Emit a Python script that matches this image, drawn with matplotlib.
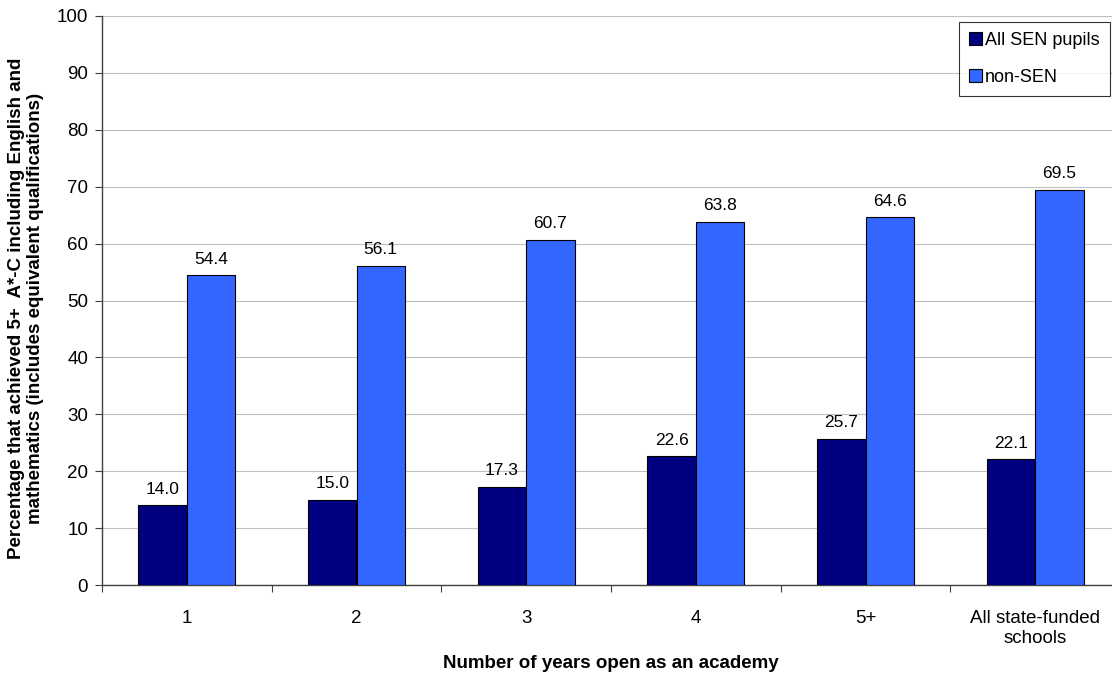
import matplotlib
matplotlib.use("Agg")
import matplotlib.pyplot as plt
import numpy as np

categories = ["1", "2", "3", "4", "5+", "All state-funded\nschools"]
sen = [14.0, 15.0, 17.3, 22.6, 25.7, 22.1]
non_sen = [54.4, 56.1, 60.7, 63.8, 64.6, 69.5]

SEN_COLOR = "#000080"
NON_SEN_COLOR = "#3366FF"

plt.rcParams["font.family"] = ["Liberation Sans", "DejaVu Sans"]

W, H = 1112, 684
fig = plt.figure(figsize=(W / 100, H / 100), dpi=100)
ax = fig.add_axes([102 / W, 1 - 585 / H, (1120 - 102) / W, (585 - 16) / H])

x = np.arange(len(categories))
w = 0.285
b1 = ax.bar(x - w / 2, sen, width=w, color=SEN_COLOR, edgecolor="black", linewidth=0.8,
            label="All SEN pupils", zorder=3)
b2 = ax.bar(x + w / 2, non_sen, width=w, color=NON_SEN_COLOR, edgecolor="black", linewidth=0.8,
            label="non-SEN", zorder=3)
for bars, vals in ((b1, sen), (b2, non_sen)):
    for r, v in zip(bars, vals):
        ax.text(r.get_x() + r.get_width() / 2, v + 1.5, f"{v:.1f}", ha="center", va="bottom",
                fontsize=12.5)

ax.set_xlim(-0.5, len(categories) - 0.5)
ax.set_ylim(0, 100)
ax.set_yticks(range(0, 101, 10))
ax.tick_params(axis="y", labelsize=13.5, length=5, color="#404040", direction="out", pad=5)
ax.set_xticks(np.arange(-0.5, len(categories), 1.0))
ax.set_xticklabels([])
ax.set_xticks(x, minor=True)
ax.set_xticklabels(categories, minor=True, fontsize=13.5)
ax.tick_params(axis="x", which="major", length=5, color="#404040", direction="out")
ax.tick_params(axis="x", which="minor", length=0, pad=18)
ax.grid(axis="y", color="#c0c0c0", linewidth=0.8, zorder=0)

for s in ("top", "right"):
    ax.spines[s].set_visible(False)
for s in ("left", "bottom"):
    ax.spines[s].set_color("#404040")
    ax.spines[s].set_linewidth(1.0)

fig.text(611 / W, 1 - 655 / H, "Number of years open as an academy", fontsize=13.5,
         fontweight="bold", ha="center", va="top")
fig.text(26 / W, 1 - 308 / H,
         "Percentage that achieved 5+  A*-C including English and\nmathematics (includes equivalent qualifications)",
         fontsize=13.5, fontweight="bold", rotation=90, ha="center", va="center",
         multialignment="center")

leg = ax.legend(loc="upper left", bbox_to_anchor=(959 / W, 1 - 22 / H),
                bbox_transform=fig.transFigure, fontsize=13, frameon=True,
                fancybox=False, edgecolor="black", handlelength=0.75, handleheight=0.75,
                handletextpad=0.15, labelspacing=1.1, borderpad=0.55, borderaxespad=0)
leg.get_frame().set_linewidth(0.8)

fig.savefig("out.png", dpi=100)
